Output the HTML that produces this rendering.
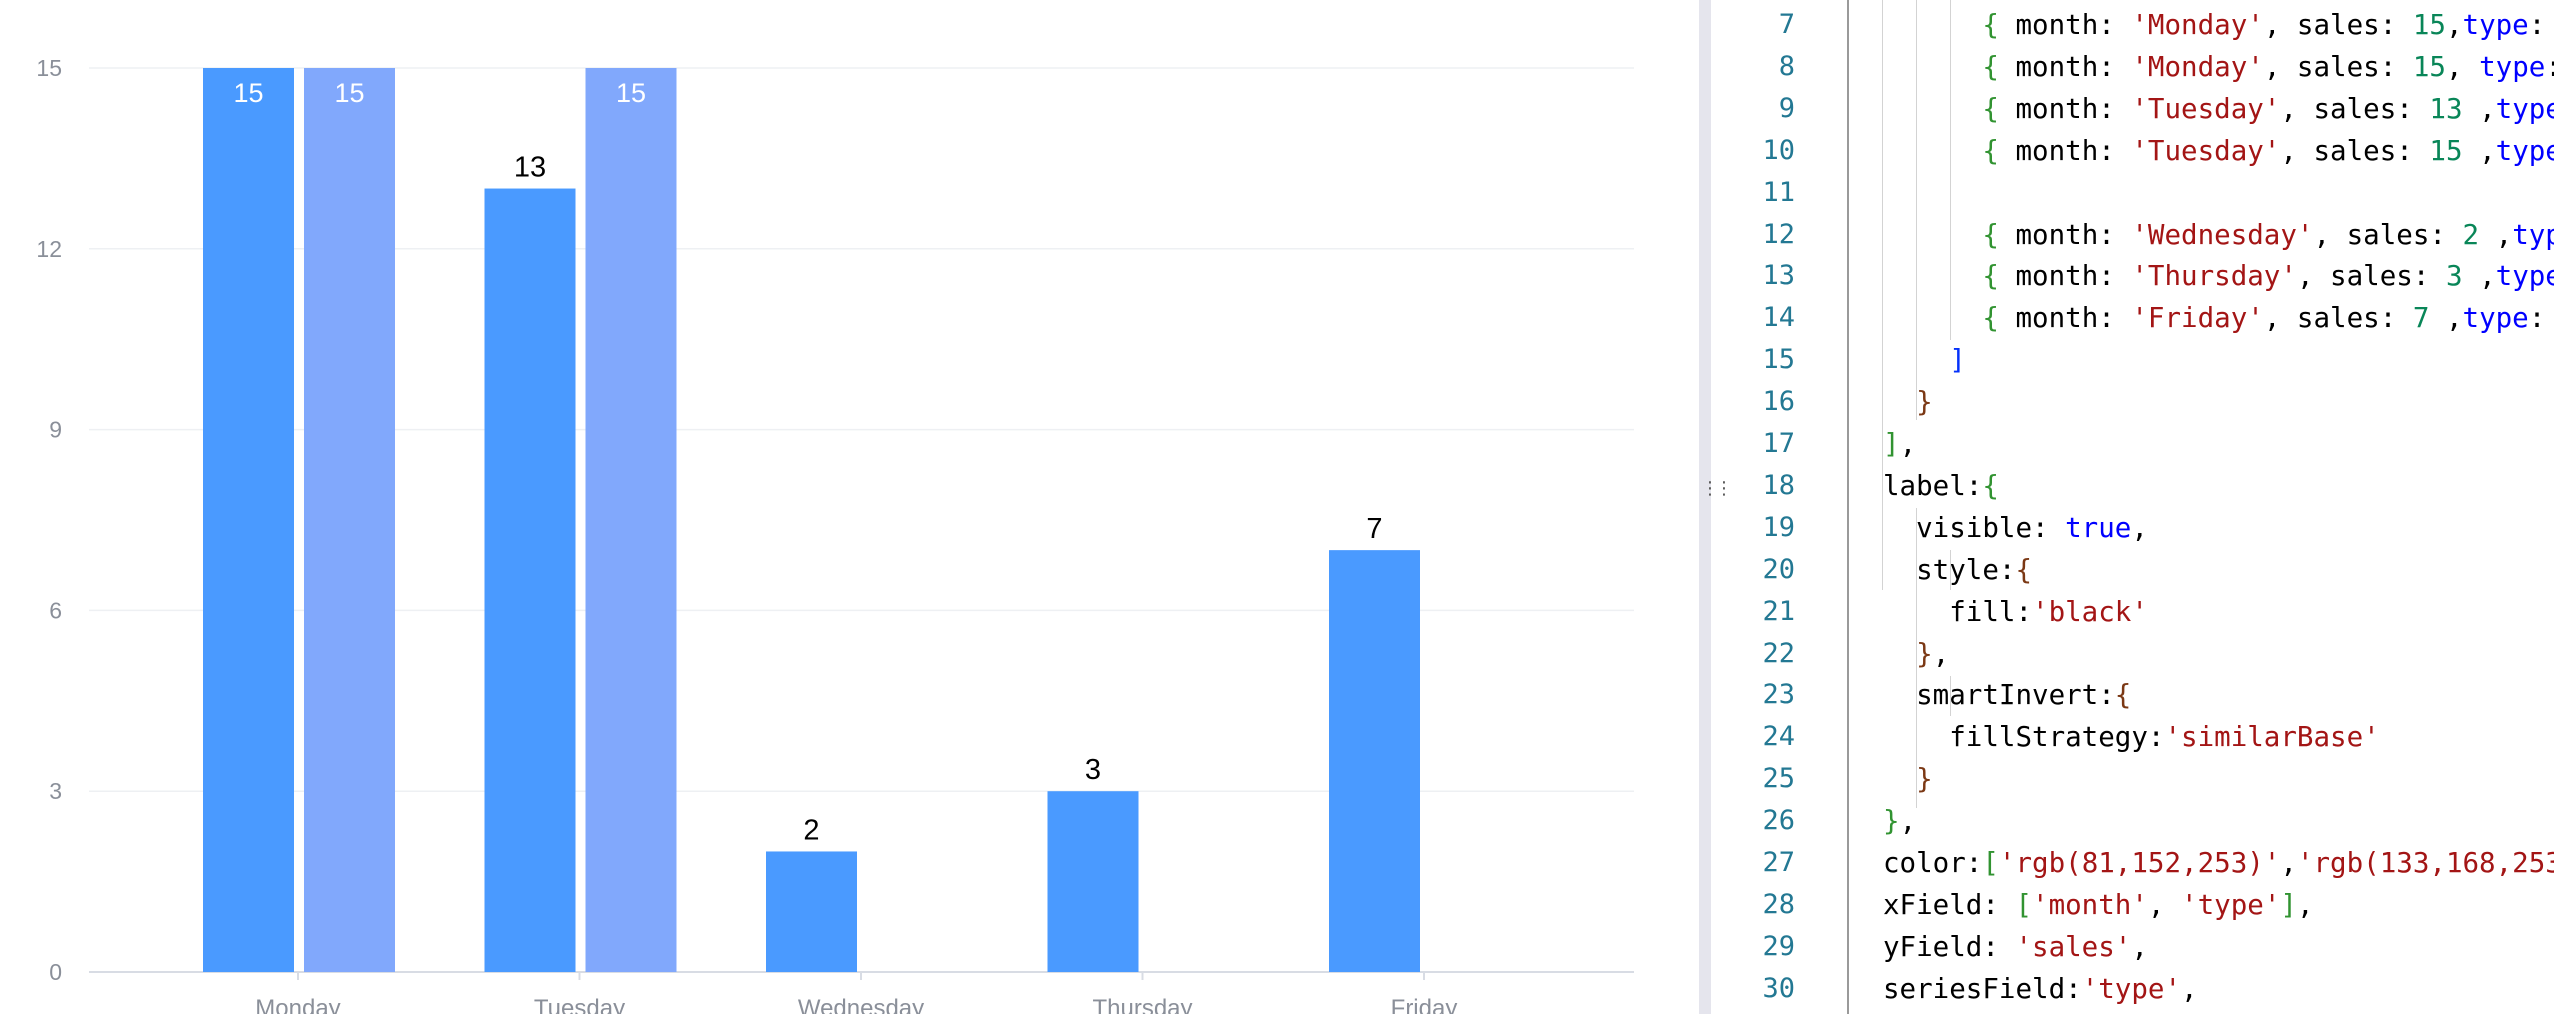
<!DOCTYPE html>
<html><head><meta charset="utf-8">
<style>
body{margin:0;width:2554px;height:1014px;overflow:hidden;background:#fff;position:relative;font-family:"Liberation Sans",sans-serif}
#chart{position:absolute;left:0;top:0}
#editor{position:absolute;left:1699px;top:0;width:855px;height:1014px;overflow:hidden;background:#fff}
.strip{position:absolute;left:0;top:0;width:12px;height:1014px;background:#e5e5ed}
.gborder{position:absolute;left:148px;top:0;width:2px;height:1014px;background:#9a9a9a}
.ln{position:absolute;left:20px;width:76px;text-align:right;font:27px "DejaVu Sans Mono","Liberation Mono",monospace;color:#237893;line-height:42px}
.code{position:absolute;left:184px;font:27.5px "DejaVu Sans Mono","Liberation Mono",monospace;color:#000;white-space:pre;line-height:42px}
.guide{position:absolute;width:1px;background:#d3d3d3}
.s{color:#a31515}.n{color:#098658}.k{color:#0000ff}.g{color:#319331}.b{color:#7b3814}.bl{color:#0431fa}
.handle{position:absolute;left:2px;top:478px;font:18px "DejaVu Sans",sans-serif;color:#555;letter-spacing:-4px}
</style></head><body>
<svg id="chart" width="1690" height="1014"></svg>
<div id="editor">
<div class="strip"></div>
<div class="handle">⋮⋮</div>
<div class="gborder"></div>
<div id="lines"></div>
</div>
<script>
const categories=['Monday','Tuesday','Wednesday','Thursday','Friday'];
const seriesA=[15,13,2,3,7];
const seriesB=[15,15,null,null,null];
const yTicks=[0,3,6,9,12,15];
const svg=document.getElementById('chart');
const NS='http://www.w3.org/2000/svg';
const x0=89,x1=1634,yTop=68,yBot=972,yMax=15;
const y=v=>yBot-(v/yMax)*(yBot-yTop);
const cx=i=>298+i*281.5;
function mk(t,a){const e=document.createElementNS(NS,t);for(const k in a)e.setAttribute(k,a[k]);svg.appendChild(e);return e;}
yTicks.forEach(t=>{
 const l=mk('line',{x1:x0,x2:x1,y1:y(t),y2:y(t),stroke:t===0?'#d8dce4':'#eef0f3','stroke-width':t===0?2:1.5});
 
 
 const tx=mk('text',{x:62,y:y(t)+8,'text-anchor':'end','font-size':23,fill:'#8a8f99','font-family':'Liberation Sans'});
 tx.textContent=t;
 
 
});
categories.forEach((c,i)=>{
 const tk=mk('line',{x1:cx(i),x2:cx(i),y1:yBot,y2:yBot+8,stroke:'#d8dce4','stroke-width':2});
 
 
 const tx=mk('text',{x:cx(i),y:yBot+44,'text-anchor':'middle','font-size':24,fill:'#8a8f99','font-family':'Liberation Sans'});
 tx.textContent=c;
 
 
 [[seriesA[i],cx(i)-95,'rgb(74,154,255)'],[seriesB[i],cx(i)+6,'rgb(129,168,252)']].forEach(([v,bx,col],j)=>{
  if(v==null)return;
  const r=mk('rect',{x:bx,y:y(v),width:91,height:yBot-y(v),fill:col});
  
  
  const inside=y(v)-40<yTop-20;
  const lb=mk('text',{x:bx+45.5,y:inside?y(v)+34:y(v)-12,'text-anchor':'middle','font-size':inside?27:29,fill:inside?'#fff':'#000','font-family':'Liberation Sans'});
  lb.textContent=v;
  
  
 });
});
const codeLines=[
[7,`      <span class="g">{</span> month: <span class="s">'Monday'</span>, sales: <span class="n">15</span>,<span class="k">type</span>: <span class="s">'a'</span> <span class="g">}</span>,`],
[8,`      <span class="g">{</span> month: <span class="s">'Monday'</span>, sales: <span class="n">15</span>, <span class="k">type</span>: <span class="s">'b'</span> <span class="g">}</span>,`],
[9,`      <span class="g">{</span> month: <span class="s">'Tuesday'</span>, sales: <span class="n">13</span> ,<span class="k">type</span>: <span class="s">'a'</span> <span class="g">}</span>,`],
[10,`      <span class="g">{</span> month: <span class="s">'Tuesday'</span>, sales: <span class="n">15</span> ,<span class="k">type</span>: <span class="s">'b'</span> <span class="g">}</span>,`],
[11,``],
[12,`      <span class="g">{</span> month: <span class="s">'Wednesday'</span>, sales: <span class="n">2</span> ,<span class="k">type</span>: <span class="s">'a'</span> <span class="g">}</span>,`],
[13,`      <span class="g">{</span> month: <span class="s">'Thursday'</span>, sales: <span class="n">3</span> ,<span class="k">type</span>: <span class="s">'a'</span> <span class="g">}</span>,`],
[14,`      <span class="g">{</span> month: <span class="s">'Friday'</span>, sales: <span class="n">7</span> ,<span class="k">type</span>: <span class="s">'a'</span> <span class="g">}</span>,`],
[15,`    <span class="bl">]</span>`],
[16,`  <span class="b">}</span>`],
[17,`<span class="g">]</span>,`],
[18,`label:<span class="g">{</span>`],
[19,`  visible: <span class="k">true</span>,`],
[20,`  style:<span class="b">{</span>`],
[21,`    fill:<span class="s">'black'</span>`],
[22,`  <span class="b">}</span>,`],
[23,`  smartInvert:<span class="b">{</span>`],
[24,`    fillStrategy:<span class="s">'similarBase'</span>`],
[25,`  <span class="b">}</span>`],
[26,`<span class="g">}</span>,`],
[27,`color:<span class="g">[</span><span class="s">'rgb(81,152,253)'</span>,<span class="s">'rgb(133,168,253)'</span><span class="g">]</span>,`],
[28,`xField: <span class="g">[</span><span class="s">'month'</span>, <span class="s">'type'</span><span class="g">]</span>,`],
[29,`yField: <span class="s">'sales'</span>,`],
[30,`seriesField:<span class="s">'type'</span>,`]];
const host=document.getElementById('lines');
codeLines.forEach(([n,h])=>{
 const top=4+(n-7)*41.9;
 const ln=document.createElement('div');ln.className='ln';ln.style.top=top+'px';ln.textContent=n;
 
 
 host.appendChild(ln);
 const c=document.createElement('div');c.className='code';c.style.top=top+'px';c.innerHTML=h;
 
 
 host.appendChild(c);
});
[[183,0,590],[217,0,420],[251,0,340],[217,508,300],[251,550,40],[251,676,40]].forEach(([l,t,h])=>{
 const g=document.createElement('div');g.className='guide';g.style.left=l+'px';g.style.top=t+'px';g.style.height=h+'px';
 
 
 host.appendChild(g);
});
</script>
</body></html>
